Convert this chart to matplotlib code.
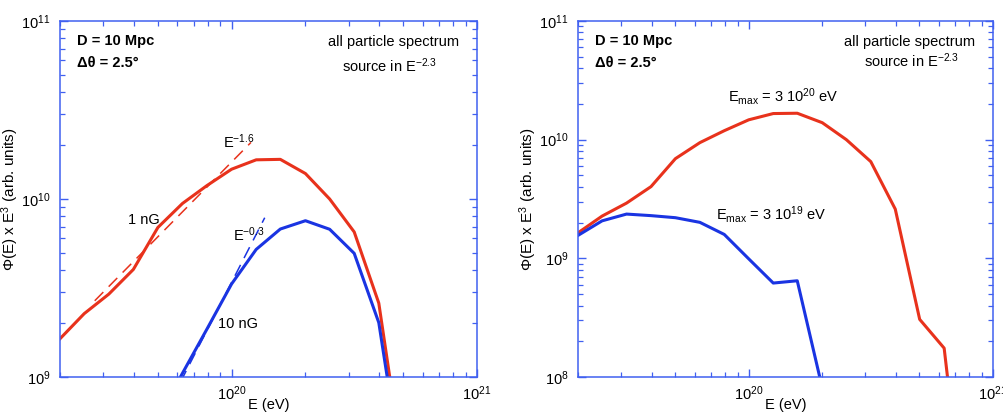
import numpy as np
import matplotlib
matplotlib.use('Agg')
import matplotlib.pyplot as plt
from matplotlib.ticker import LogLocator, NullFormatter

plt.rcParams['font.family'] = ['Liberation Sans', 'DejaVu Sans']
plt.rcParams['mathtext.fontset'] = 'custom'
plt.rcParams['mathtext.rm'] = 'Liberation Sans'
plt.rcParams['mathtext.it'] = 'Liberation Sans:italic'
plt.rcParams['mathtext.bf'] = 'Liberation Sans:bold'

# energies (eV) of the simulated bins
energy = [2.0e19, 2.51e19, 3.16e19, 3.98e19, 5.01e19, 6.31e19, 7.94e19, 1.0e20,
          1.26e20, 1.58e20, 2.0e20, 2.51e20, 3.16e20, 3.98e20, 5.01e20, 6.31e20, 7.94e20]

# all particle spectrum, 1 nG / Emax = 3e20 eV (same curve in both panels)
flux_red = [1.64e9, 2.27e9, 2.92e9, 4.02e9, 6.92e9, 9.44e9, 1.19e10, 1.47e10,
            1.66e10, 1.67e10, 1.39e10, 1.00e10, 6.53e9, 2.60e9, 3.06e8, 1.75e8, 3.0e6]

# 10 nG, left panel
energy_10nG = [5.01e19, 6.31e19, 7.94e19, 1.0e20, 1.26e20, 1.58e20, 2.0e20,
               2.51e20, 3.16e20, 3.98e20, 5.01e20]
flux_10nG = [5.9e8, 1.05e9, 1.86e9, 3.33e9, 5.21e9, 6.78e9, 7.55e9,
             6.76e9, 4.95e9, 2.02e9, 2.6e8]

# Emax = 3e19 eV, right panel
energy_3e19 = [2.0e19, 2.51e19, 3.16e19, 3.98e19, 5.01e19, 6.31e19, 7.94e19,
               1.0e20, 1.26e20, 1.58e20, 2.0e20]
flux_3e19 = [1.56e9, 2.07e9, 2.36e9, 2.29e9, 2.20e9, 2.01e9, 1.59e9,
             9.9e8, 6.19e8, 6.47e8, 8.1e7]

# power-law guides (end points)
guide_red_E = [2.77e19, 1.20e20]
guide_red_y = [2.68e9, 2.08e10]
guide_blue_E = [6.2e19, 1.365e20]
guide_blue_y = [9.4e8, 7.85e9]

red = '#e8321c'
blue = '#1a34e2'
axcol = '#4060f0'

fig = plt.figure(figsize=(10.04, 4.12), dpi=100)
ax1 = fig.add_axes([60 / 1004, 35 / 412, 417 / 1004, 356 / 412])
ax2 = fig.add_axes([578 / 1004, 35 / 412, 415 / 1004, 356 / 412])


def style(ax, ylo):
    ax.set_xscale('log')
    ax.set_yscale('log')
    ax.set_xlim(2e19, 1e21)
    ax.set_ylim(ylo, 1e11)
    for s in ax.spines.values():
        s.set_color(axcol)
        s.set_linewidth(1.1)
    ax.xaxis.set_major_locator(LogLocator(base=10, numticks=10))
    ax.xaxis.set_minor_locator(LogLocator(base=10, subs=np.arange(2, 10), numticks=20))
    ax.yaxis.set_minor_locator(LogLocator(base=10, subs=np.arange(2, 10), numticks=20))
    ax.xaxis.set_minor_formatter(NullFormatter())
    ax.yaxis.set_minor_formatter(NullFormatter())
    ax.tick_params(which='both', direction='in', top=True, right=True,
                   color=axcol, labelsize=10.5)
    ax.tick_params(which='major', length=6, width=1.0)
    ax.tick_params(which='minor', length=3.5, width=0.9)
    ax.tick_params(axis='x', pad=5)
    ax.tick_params(axis='y', pad=7)
    ax.set_xlabel('E (eV)', fontsize=10.5)
    ax.xaxis.set_label_coords(0.5, -0.060)
    ax.set_ylabel(r'$\Phi$(E) x E$^3$ (arb. units)', fontsize=11)
    ax.yaxis.set_label_coords(-0.093, 0.5)
    ax.text(0.041, 0.932, 'D = 10 Mpc', transform=ax.transAxes, fontsize=10.5,
            fontweight='bold', va='baseline')
    ax.text(0.041, 0.872, '\u0394\u03b8 = 2.5\u00b0', transform=ax.transAxes,
            fontsize=10.5, fontweight='bold', va='baseline')
    ax.text(0.80, 0.930, 'all particle spectrum', transform=ax.transAxes,
            fontsize=10.5, ha='center', va='baseline')


# left panel
style(ax1, 1e9)
ax1.text(0.791, 0.858, r'source in E$^{-2.3}$', transform=ax1.transAxes,
         fontsize=10.5, ha='center', va='baseline')
ax1.plot(energy, flux_red, color=red, lw=2.2)
ax1.plot(energy_10nG, flux_10nG, color=blue, lw=2.2)
ax1.plot(guide_red_E, guide_red_y, color=red, lw=1.1, dashes=(8, 5))
ax1.plot(guide_blue_E, guide_blue_y, color=blue, lw=1.1, dashes=(8, 5))
ax1.text(0.391, 0.644, r'E$^{-1.6}$', transform=ax1.transAxes, fontsize=10.5, va='baseline')
ax1.text(0.163, 0.429, '1 nG', transform=ax1.transAxes, fontsize=10.5, va='baseline')
ax1.text(0.416, 0.382, r'E$^{-0.3}$', transform=ax1.transAxes, fontsize=10.5, va='baseline')
ax1.text(0.379, 0.137, '10 nG', transform=ax1.transAxes, fontsize=10.5, va='baseline')

# right panel
style(ax2, 1e8)
ax2.text(0.803, 0.872, r'source in E$^{-2.3}$', transform=ax2.transAxes,
         fontsize=10.5, ha='center', va='baseline')
ax2.plot(energy, flux_red, color=red, lw=2.2)
ax2.plot(energy_3e19, flux_3e19, color=blue, lw=2.2)
ax2.text(0.361, 0.773, r'E$_{\rm max}$ = 3 10$^{20}$ eV', transform=ax2.transAxes,
         fontsize=10.5, va='baseline')
ax2.text(0.333, 0.443, r'E$_{\rm max}$ = 3 10$^{19}$ eV', transform=ax2.transAxes,
         fontsize=10.5, va='baseline')

fig.savefig('out.png', dpi=100)
